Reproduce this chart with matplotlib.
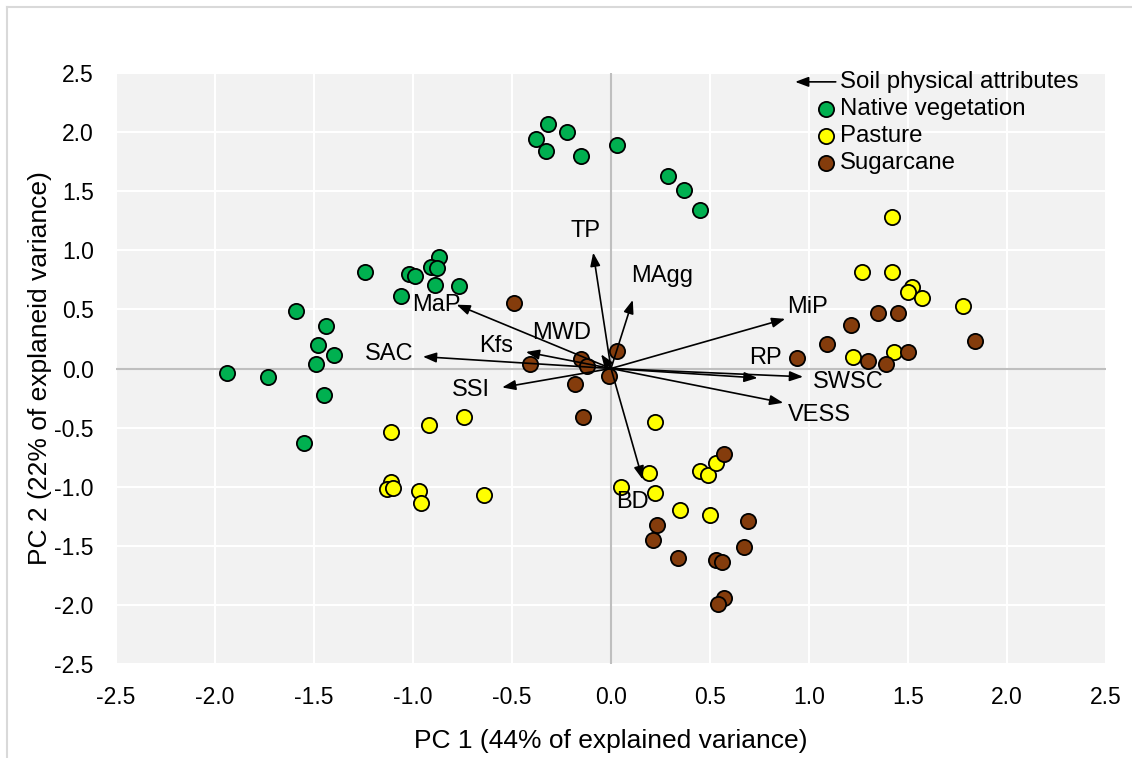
import matplotlib.pyplot as plt
from matplotlib.lines import Line2D

plt.rcParams['font.family'] = ['Liberation Sans', 'DejaVu Sans']

# PCA scores per land use
native_pc1 = [-1.24, -1.59, -1.44, -1.48, -1.40, -1.49, -1.94, -1.73, -1.45, -1.55,
              -1.02, -0.99, -0.87, -0.91, -0.88, -0.89, -0.77, -1.06,
              -0.32, -0.22, -0.38, -0.33, -0.15, 0.03, 0.29, 0.37, 0.45]
native_pc2 = [0.82, 0.49, 0.36, 0.20, 0.11, 0.04, -0.04, -0.07, -0.22, -0.63,
              0.80, 0.78, 0.94, 0.86, 0.85, 0.71, 0.70, 0.61,
              2.07, 2.00, 1.94, 1.84, 1.80, 1.89, 1.63, 1.51, 1.34]

pasture_pc1 = [-1.11, -0.92, -0.74, -1.11, -1.13, -1.10, -0.97, -0.96, -0.64,
               0.22, 0.19, 0.05, 0.22, 0.35, 0.50, 0.45, 0.49, 0.53,
               1.42, 1.27, 1.42, 1.52, 1.50, 1.57, 1.78, 1.22, 1.43]
pasture_pc2 = [-0.54, -0.48, -0.41, -0.96, -1.02, -1.01, -1.04, -1.14, -1.07,
               -0.45, -0.88, -1.00, -1.05, -1.20, -1.24, -0.87, -0.90, -0.80,
               1.28, 0.82, 0.82, 0.69, 0.65, 0.60, 0.53, 0.10, 0.14]

sugarcane_pc1 = [-0.49, -0.41, -0.15, -0.12, 0.03, -0.01, -0.18, -0.14,
                 0.57, 0.23, 0.21, 0.34, 0.53, 0.56, 0.69, 0.67, 0.57, 0.54,
                 0.94, 1.09, 1.21, 1.35, 1.45, 1.30, 1.39, 1.50, 1.84]
sugarcane_pc2 = [0.55, 0.04, 0.08, 0.02, 0.15, -0.06, -0.13, -0.41,
                 -0.72, -1.32, -1.45, -1.60, -1.62, -1.64, -1.29, -1.51, -1.94, -1.99,
                 0.09, 0.21, 0.37, 0.47, 0.47, 0.06, 0.04, 0.14, 0.23]

# loadings of the soil physical attributes
attributes = ['TP', 'MAgg', 'MiP', 'MaP', 'MWD', 'Kfs', 'SAC', 'SSI', 'RP', 'SWSC', 'VESS', 'BD']
load_pc1 = [-0.09, 0.11, 0.88, -0.78, -0.05, -0.43, -0.95, -0.55, 0.74, 0.97, 0.87, 0.16]
load_pc2 = [0.98, 0.58, 0.42, 0.54, 0.12, 0.14, 0.10, -0.16, -0.08, -0.07, -0.29, -0.94]

# where each attribute name sits (data coords)
label_xy = {
    'TP': (-0.13, 1.16), 'MAgg': (0.26, 0.78), 'MiP': (0.99, 0.52), 'MaP': (-0.88, 0.54),
    'MWD': (-0.25, 0.30), 'Kfs': (-0.58, 0.19), 'SAC': (-1.12, 0.12), 'SSI': (-0.71, -0.18),
    'RP': (0.78, 0.09), 'SWSC': (1.20, -0.11), 'VESS': (1.05, -0.39), 'BD': (0.11, -1.13),
}

GREEN = '#00B050'
YELLOW = '#FFFF00'
BROWN = '#843C0C'

fig = plt.figure(figsize=(11.32, 7.58), dpi=100)
ax = fig.add_axes([116 / 1132, 1 - 664 / 758, 990 / 1132, 591 / 758])

# light chart border
fig.add_artist(Line2D([7 / 1132, 7 / 1132], [0, 1 - 7 / 758], color='#D9D9D9', lw=1.5))
fig.add_artist(Line2D([7 / 1132, 1], [1 - 7 / 758, 1 - 7 / 758], color='#D9D9D9', lw=1.5))

ax.set_facecolor('#F2F2F2')
for s in ax.spines.values():
    s.set_visible(False)
ax.set_xlim(-2.5, 2.5)
ax.set_ylim(-2.5, 2.5)
ticks = [-2.5, -2.0, -1.5, -1.0, -0.5, 0.0, 0.5, 1.0, 1.5, 2.0, 2.5]
ax.set_xticks(ticks)
ax.set_yticks(ticks)
ax.set_xticklabels([f'{t:.1f}' for t in ticks])
ax.set_yticklabels([f'{t:.1f}' for t in ticks])
ax.tick_params(length=0, labelsize=16.5, pad=16)
ax.grid(color='white', lw=1.5)
ax.set_axisbelow(True)
ax.axhline(0, color='#BFBFBF', lw=1.5, zorder=1)
ax.axvline(0, color='#BFBFBF', lw=1.5, zorder=1)

mk = dict(s=120, edgecolors='black', linewidths=1.3, zorder=3)
ax.scatter(native_pc1, native_pc2, c=GREEN, **mk)
ax.scatter(pasture_pc1, pasture_pc2, c=YELLOW, **mk)
ax.scatter(sugarcane_pc1, sugarcane_pc2, c=BROWN, **mk)

for name, lx, ly in zip(attributes, load_pc1, load_pc2):
    ax.annotate('', xy=(lx, ly), xytext=(0, 0),
                arrowprops=dict(arrowstyle='-|>,head_length=0.8,head_width=0.3',
                                color='black', lw=1.2, shrinkA=0, shrinkB=0),
                zorder=4)
    tx, ty = label_xy[name]
    ax.text(tx, ty, name, fontsize=17, ha='center', va='center', zorder=5)

# legend
ax.annotate('', xy=(0.686, 0.985), xytext=(0.727, 0.985), xycoords='axes fraction',
            arrowprops=dict(arrowstyle='-|>,head_length=0.8,head_width=0.3',
                            color='black', lw=1.2, shrinkA=0, shrinkB=0))
ax.text(0.731, 0.985, 'Soil physical attributes', transform=ax.transAxes,
        fontsize=17.3, va='center', ha='left')
for yy, col, lab in [(0.939, GREEN, 'Native vegetation'),
                     (0.893, YELLOW, 'Pasture'),
                     (0.848, BROWN, 'Sugarcane')]:
    ax.scatter([0.717], [yy], transform=ax.transAxes, c=col, s=120,
               edgecolors='black', linewidths=1.3, zorder=3, clip_on=False)
    ax.text(0.731, yy, lab, transform=ax.transAxes, fontsize=17.3, va='center', ha='left')

ax.set_xlabel('PC 1 (44% of explained variance)', fontsize=19, labelpad=14)
ax.set_ylabel('PC 2 (22% of explaneid variance)', fontsize=19, labelpad=2)

fig.savefig('out.png', dpi=100)
